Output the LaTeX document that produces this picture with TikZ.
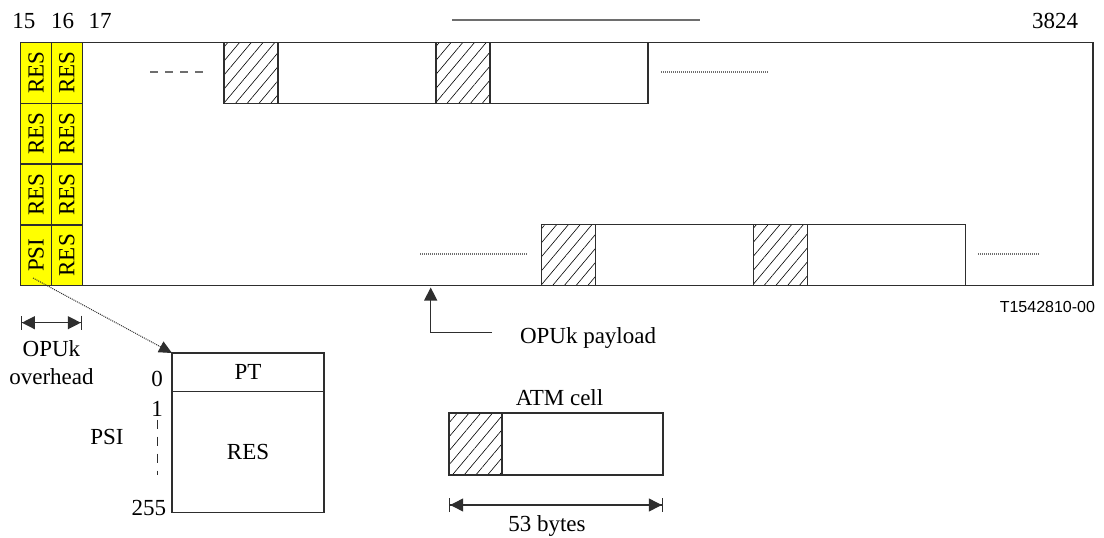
\documentclass[tikz,border=0pt]{standalone}
\usepackage{fontspec}
\setmainfont{Liberation Serif}
\newfontfamily\arialfont{Liberation Sans}
\definecolor{oYellow}{HTML}{FFFF00}
\definecolor{oLine}{HTML}{2E2E2E}
\definecolor{oGray}{HTML}{6E6E6E}
\usetikzlibrary{arrows.meta, positioning, patterns.meta}

\begin{document}
\begin{tikzpicture}[x=1pt, y=-1pt,
  every node/.style={inner sep=0pt, outer sep=0pt, font=\fontsize{23}{28}\selectfont},
  box/.style={draw=oLine, line width=1.3pt},
  ohcell/.style={box, fill=oYellow, rotate=90, minimum width=60.8pt, minimum height=31pt},
  hatchcell/.style={box, minimum width=54pt, minimum height=61pt,
    pattern={Lines[angle=50, distance=9pt, line width=0.6pt]}},
  atmbody/.style={box, minimum width=158pt, minimum height=61pt},
  filler/.style={oGray, line width=1.3pt, dash pattern=on 1pt off 1pt},
  dim/.style={oLine, line width=1.2pt,
    {Bar[width=14pt]Triangle[length=13pt,width=13pt]}-{Triangle[length=13pt,width=13pt]Bar[width=14pt]}},
]
  \useasboundingbox (0,0) rectangle (1104,538);

  % OPUk frame with overhead columns
  \node[box, anchor=north west, minimum width=1072.5pt, minimum height=243.2pt] (frame) at (20.5,42.5) {};
  \foreach \r/\lab in {0/RES,1/RES,2/RES,3/PSI} {
    \node[ohcell] (oh15-\r) at (36,72.9+60.8*\r) {\lab};
    \node[ohcell] (oh16-\r) at (66.75,72.9+60.8*\r) {RES};
  }

  % column numbers
  \node[anchor=base] (col15) at (24,28) {15};
  \node[anchor=base] (col16) at (62.5,28) {16};
  \node[anchor=base] (col17) at (100,28) {17};
  \node[anchor=base] (col3824) at (1055,28) {3824};
  \draw[oGray, line width=2pt] (452,20) -- (700,20);

  % ATM cells, first row
  \node[hatchcell, anchor=north west] (ta1) at (224,42.5) {};
  \node[atmbody, right=0pt of ta1] (tb1) {};
  \node[hatchcell, right=0pt of tb1] (ta2) {};
  \node[atmbody, right=0pt of ta2] (tb2) {};
  \draw[oGray, line width=1.5pt, dash pattern=on 8pt off 7pt] (150,72) -- (203,72);
  \draw[filler] (661,72) -- (768,72);

  % ATM cells, last row
  \node[hatchcell, anchor=south west, minimum height=61.5pt] (ba1) at (541.5,285.7) {};
  \node[atmbody, minimum height=61.5pt, right=0pt of ba1] (bb1) {};
  \node[hatchcell, minimum height=61.5pt, right=0pt of bb1] (ba2) {};
  \node[atmbody, minimum height=61.5pt, right=0pt of ba2] (bb2) {};
  \draw[filler] (420,254) -- (527,254);
  \draw[filler] (978,254) -- (1039,254);

  \node[anchor=base east, font=\arialfont\fontsize{16}{18}\selectfont] (figid) at (1095,312.7) {T1542810-00};

  % overhead width
  \coordinate (ohL) at (20.7,322.7);
  \coordinate (ohR) at (82,322.7);
  \draw[dim] (ohL) -- (ohR);
  \node[anchor=north, align=center] (ohlab) at (51.5,341) {OPUk\\overhead};

  % payload pointer
  \coordinate (paytip) at (430.7,287.5);
  \coordinate (payend) at (492,332.7);
  \draw[oLine, line width=1.2pt, -{Triangle[length=13pt,width=13pt]}] (payend) -| (paytip);
  \node[anchor=base west] (paylab) at (520,343) {OPUk payload};

  % PSI detail
  \node[box, anchor=north west, minimum width=152pt, minimum height=38.5pt] (ptcell) at (172,353) {PT};
  \node[box, anchor=north, minimum width=152pt, minimum height=121pt] (psires) at (ptcell.south) {RES};
  \node[anchor=base] (idx0) at (157,386.7) {0};
  \node[anchor=base] (idx1) at (157,416.7) {1};
  \node[anchor=base east] (idx255) at (166,515) {255};
  \draw[oLine, line width=1pt, dash pattern=on 9pt off 8pt] ([yshift=-3pt]idx1.south) -- ++(0,55);
  \node[anchor=base] (psilab) at (107,444) {PSI};
  \coordinate (psitail) at (33,278);
  \draw[oLine, line width=1pt, dash pattern=on 1pt off 1pt, -{Triangle[length=13pt,width=12pt]}] (psitail) -- (ptcell.north west);

  % single ATM cell
  \node[hatchcell, anchor=north west, minimum width=53pt, minimum height=62pt] (atmhdr) at (449,413) {};
  \node[atmbody, minimum width=161pt, minimum height=62pt, right=0pt of atmhdr] (atmpay) {};
  \node[anchor=base] (atmlab) at (559.5,405) {ATM cell};
  \draw[dim] ([yshift=-30pt]atmhdr.south west) -- ([yshift=-30pt]atmpay.south east);
  \node[anchor=base] (bytelab) at (547,531.7) {53 bytes};
\end{tikzpicture}
\end{document}
